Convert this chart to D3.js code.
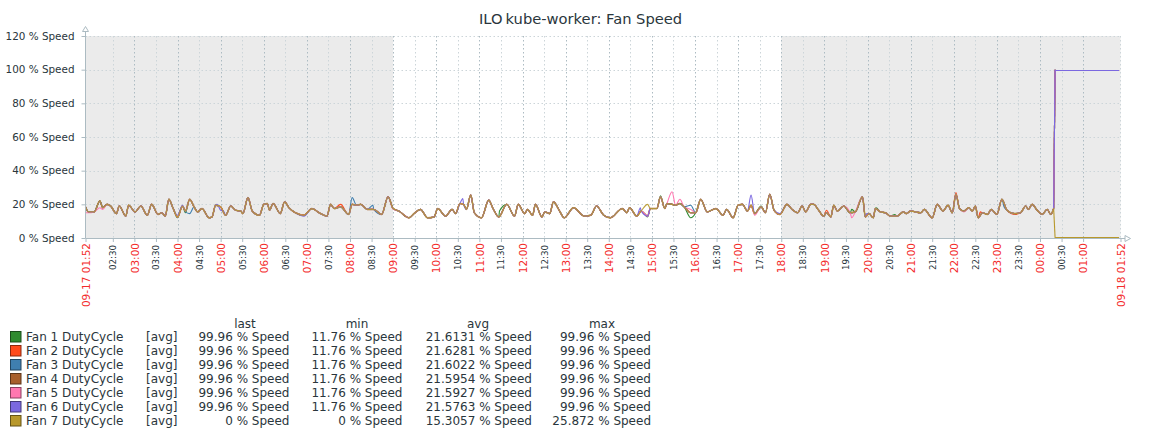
<!DOCTYPE html>
<html><head><meta charset="utf-8">
<script src="https://cdn.jsdelivr.net/npm/d3@7"></script>
<style>
html,body{margin:0;padding:0;background:#fff;overflow:hidden}
text{font-family:"DejaVu Sans",sans-serif;fill:#2A363C}
</style></head><body><svg id="c" width="1151" height="439"></svg>
<script>
const titleHost = "ILO";
const titleRest = "kube-worker: Fan Speed";
const fanNames = ["Fan 1 DutyCycle","Fan 2 DutyCycle","Fan 3 DutyCycle","Fan 4 DutyCycle","Fan 5 DutyCycle","Fan 6 DutyCycle","Fan 7 DutyCycle"];
const fanColors = ["#2F8B2F","#FF4A1C","#3F7FAF","#A85F2C","#FF77B0","#7B68E0","#B8982B"];
const lastValues = ["99.96 % Speed","99.96 % Speed","99.96 % Speed","99.96 % Speed","99.96 % Speed","99.96 % Speed","0 % Speed"];
const minValues = ["11.76 % Speed","11.76 % Speed","11.76 % Speed","11.76 % Speed","11.76 % Speed","11.76 % Speed","0 % Speed"];
const avgValues = ["21.6131 % Speed","21.6281 % Speed","21.6022 % Speed","21.5954 % Speed","21.5927 % Speed","21.5763 % Speed","15.3057 % Speed"];
const maxValues = ["99.96 % Speed","99.96 % Speed","99.96 % Speed","99.96 % Speed","99.96 % Speed","99.96 % Speed","25.872 % Speed"];
const yTicks = [0,20,40,60,80,100,120];

// minutes after 09-17 01:52, and the common trace (Fan 7)
const sharedMinutes = [0,4,12,20,24,30,35,43,47,56,60,69,77,86,92,101,106,111,116,122,128,135,139,145,151,156,162,172,176,181,188,195,202,209,216,219,226,232,242,248,253,256,261,271,277,283,292,304,315,325,336,341,346,355,366,371,377,383,392,401,412,421,428,436,
450,457,466,476,485,490,501,510,515,521,526,530,536,541,551,561,567,575,586,597,602,611,615,622,626,635,639,646,651,659,666,679,694,703,711,721,730,747,753,757,767,773,782,786,795,800,806,809,816,821,827,833,842,849,856,865,877,887,
892,901,908,914,921,926,931,940,946,952,958,966,976,983,991,997,1002,1009,1013,1020,1027,1031,1037,1041,1046,1055,1064,1071,1081,1085,1090,1096,1099,1106,1113,1120,1129,1138,1142,1148,1162,1167,1178,1185,1193,1200,1206,1211,1216,1222,1229,1234,1238,1242,1248,1255,1260,1268,1275,1282,1292,1301,1308,1312,1317,1324,1331,1338,1343,1347];
const sharedValues = [18.5,15.5,15.5,22,18,20,19,14.5,19,13,19.5,15.5,19,13.5,20,14,15,13,23,17.5,12.5,19,16,23,18.5,15.5,17.5,12,12.5,19.5,18.5,13.5,19,16.5,16,14.5,24,16,13.5,20,20.5,16.5,20.5,14.5,21.5,18,15,13.5,17.5,15,13,20,17.5,18.5,14,20,19.5,20,17,17,14,24.5,17.5,16,
12,14.5,17,12,12.5,17.5,13,17,14.5,20.5,20,17,25.5,15,12,22.5,17.5,12.5,20,13,20,14.5,17,13.5,20,12.5,15.5,14.5,21.5,16.5,12,18,13,13.5,19,13.5,12,17.5,15,18,13,16,20,17.5,17.5,24.5,17.5,20.5,20,19.5,20.5,18.5,15,15,23,15.5,17.5,13.5,
17,12,19.5,20,16,19.5,14.5,18.5,15,26,16.5,14,20,17,15,19,15.5,20,20,16.5,13,15,12.5,19.5,16,19,15,15.5,24.5,12.5,14.5,12,17.5,15.5,15,13,13,15.5,14.5,16,15,17,12,20,16,19.5,15,26,17.5,16,18,16,19,12,15,14,17,14,23,16.5,14.5,15,19,17,20,16.5,14,17,14,17.5];

// places where a single fan visibly leaves the common trace: [minute, value]
const fan1Diffs = [[128,12],[139,15],[576,16],[782,12.5],[800,25],[842,12],[940,19],[1066,17],[1100,18],[1126,14]];
const fan2Diffs = [[355,20],[782,13],[1031,16.5],[1211,27],[1245,15.5],[1292,14]];
const fan3Diffs = [[145,14.5],[139,15.5],[371,24],[400,19.5],[782,13],[842,19.5],[1278,18.5]];
const fan4Diffs = [[782,13]];
const fan5Diffs = [[0,15],[4,15],[20,18],[24,17],[428,17],[782,13],[816,27.5],[827,23],[842,17],[931,13.5],[1066,12],[1222,15.5]];
const fan6Diffs = [[128,13.5],[135,19.5],[183,20],[188,16.5],[192,16],[304,13],[525,23.5],[772,18],[782,13],[926,25.5],[966,14.5],[1087,14.5],[1292,14.5]];
const fanDiffs = [fan1Diffs,fan2Diffs,fan3Diffs,fan4Diffs,fan5Diffs,fan6Diffs,[]];
const tailMinutes = [1349,1438];
const highTail = [99.96,99.96];
const lowTail = [0,0];

const majorHours = ["03:00","04:00","05:00","06:00","07:00","08:00","09:00","10:00","11:00","12:00","13:00","14:00","15:00","16:00","17:00","18:00","19:00","20:00","21:00","22:00","23:00","00:00","01:00"];
const minorHours = ["02:30","03:30","04:30","05:30","06:30","07:30","08:30","09:30","10:30","11:30","12:30","13:30","14:30","15:30","16:30","17:30","18:30","19:30","20:30","21:30","22:30","23:30","00:30"];
const workHours = ["09:00","18:00"];

const start = new Date(2024,8,17,1,52), end = new Date(2024,8,18,1,52);
const at = m => new Date(+start + m*60000);
const clock = s => { const [h,m]=s.split(":").map(Number); const d=new Date(2024,8,17,h,m); if(d<start) d.setDate(18); return d; };

const L=85.5,R=1120.5,T=36,B=238;
const x = d3.scaleTime().domain([start,end]).range([L,R]);
const y = d3.scaleLinear().domain([0,120]).range([B,T]);
const svg = d3.select("#c");
const gridMinor="#CCD5D9", gridMajor="#ACBBC2";

svg.append("rect").attr("x",L).attr("y",T).attr("width",R-L).attr("height",B-T).attr("fill","#EBEBEB");
svg.append("rect").attr("x",x(clock(workHours[0]))).attr("y",T).attr("height",B-T)
   .attr("width",x(clock(workHours[1]))-x(clock(workHours[0]))).attr("fill","#fff");

// grid
const dash="1.5,2.5";
svg.append("g").selectAll("line").data(yTicks.slice(1)).join("line")
  .attr("x1",L).attr("x2",R).attr("y1",d=>Math.round(y(d))+.5).attr("y2",d=>Math.round(y(d))+.5)
  .attr("stroke",gridMinor).attr("stroke-dasharray",dash);
svg.append("g").selectAll("line").data(minorHours.map(clock)).join("line")
  .attr("x1",d=>Math.round(x(d))+.5).attr("x2",d=>Math.round(x(d))+.5).attr("y1",T).attr("y2",B)
  .attr("stroke",gridMinor).attr("stroke-dasharray",dash);
svg.append("g").selectAll("line").data(majorHours.map(clock)).join("line")
  .attr("x1",d=>Math.round(x(d))+.5).attr("x2",d=>Math.round(x(d))+.5).attr("y1",T).attr("y2",B)
  .attr("stroke",gridMajor).attr("stroke-dasharray",dash);
svg.append("line").attr("x1",R).attr("x2",R).attr("y1",T).attr("y2",B).attr("stroke",gridMinor).attr("stroke-dasharray",dash);

// series
const line = d3.line().x(d=>x(at(d[0]))).y(d=>y(d[1]));
const smooth = d3.line().x(d=>x(at(d[0]))).y(d=>y(d[1])).curve(d3.curveMonotoneX);
const bodyOf = i => {
  const m = new Map(sharedMinutes.map((t,k)=>[t,sharedValues[k]]));
  fanDiffs[i].forEach(([t,v])=>m.set(t,v));
  return [...m.entries()].sort((a,b)=>a[0]-b[0]);
};
const tailOf = i => tailMinutes.map((t,k)=>[t,(i<6?highTail:lowTail)[k]]);
const widths = [1.1,1.1,1.1,1.5,1.1,1.1,1.2];
const gSeries = svg.append("g"), gTail = svg.append("g");
fanNames.forEach((n,i)=>{
  const b = bodyOf(i), t = tailOf(i);
  gSeries.append("path").attr("d",smooth(b)).attr("fill","none")
    .attr("stroke",fanColors[i]).attr("stroke-width",widths[i]).attr("stroke-linejoin","round")
    .attr("stroke-opacity",i===6?0.9:1);
  gSeries.append("path").attr("d",line([b[b.length-1],t[0]])).attr("fill","none")
    .attr("stroke",fanColors[i]).attr("stroke-width",1.1);
  // the flat end of each trace sits on one pixel row
  const py = y(t[0][1]);
  const row = (i<6 ? Math.floor(py)+1 : Math.floor(py)-1) + .5;
  gTail.append("path").attr("d",line(t)).attr("fill","none").attr("transform",`translate(0,${row-py})`)
    .attr("stroke",fanColors[i]).attr("stroke-width",1);
});

// axes
const yAxis = d3.axisLeft(y).tickValues(yTicks).tickSize(4).tickPadding(7).tickFormat(d=>d+" % Speed");
const gy = svg.append("g").attr("transform",`translate(${L},0)`).call(yAxis);
gy.select(".domain").remove();
gy.selectAll("line").attr("stroke",gridMajor);
gy.selectAll("text").attr("font-size",10.4).style("font-family","'DejaVu Sans'");

const labelOf = new Map();
minorHours.forEach(h=>labelOf.set(+clock(h),h));
majorHours.forEach(h=>labelOf.set(+clock(h),h));
const xt = [...minorHours,...majorHours].map(clock).sort((a,b)=>a-b);
const isMajor = new Set(majorHours.map(h=>+clock(h)));
const xAxis = d3.axisBottom(x).tickValues([start,...xt,end]).tickSize(4).tickPadding(3)
  .tickFormat(d=> +d===+start ? "09-17 01:52" : +d===+end ? "09-18 01:52" : labelOf.get(+d));
const gx = svg.append("g").attr("transform",`translate(0,${B})`).call(xAxis);
gx.select(".domain").remove();
gx.selectAll("line").attr("stroke",gridMajor);
gx.selectAll("text").each(function(d){
  const big = isMajor.has(+d)|| +d===+start || +d===+end;
  d3.select(this).attr("transform",`translate(0,${big?5:7}) rotate(-90)`)
    .attr("x",0).attr("y",0).attr("dy","0.35em").attr("text-anchor","end")
    .attr("font-size",big?10.5:8.7).style("fill",big?"#F32B2B":"#2A363C");
});

// axis lines + arrows
svg.append("line").attr("x1",L).attr("x2",L).attr("y1",31).attr("y2",B).attr("stroke",gridMajor);
svg.append("line").attr("x1",L).attr("x2",1125).attr("y1",B+.5).attr("y2",B+.5).attr("stroke",gridMajor);
const arrow = d3.line();
svg.append("path").attr("d",arrow([[L-3,31.5],[L+3,31.5],[L,26.5]])+"Z").attr("fill","#fff").attr("stroke",gridMajor);
svg.append("path").attr("d",arrow([[1125,235.5],[1125,241.5],[1130.5,238.5]])+"Z").attr("fill","#fff").attr("stroke",gridMajor);

// title
const title = svg.append("text").attr("x",479).attr("y",24).attr("font-size",14.7);
title.append("tspan").text(titleHost);
title.append("tspan").attr("dx",3).text(titleRest);

// legend
const rowY = d3.scalePoint().domain(fanNames).range([341,425]);
const head = [["last",245],["min",357],["avg",478],["max",602]];
svg.append("g").selectAll("text").data(head).join("text").attr("x",d=>d[1]).attr("y",328)
  .attr("text-anchor","middle").attr("font-size",12).text(d=>d[0]);
const rows = svg.append("g").selectAll("g").data(fanNames).join("g").attr("transform",d=>`translate(0,${rowY(d)})`);
rows.append("rect").attr("x",10.5).attr("y",-9.5).attr("width",10.5).attr("height",10.5)
  .attr("fill",(d,i)=>fanColors[i]).attr("stroke",(d,i)=>d3.color(fanColors[i]).darker(1.7)).attr("stroke-width",1);
rows.append("text").attr("x",26).attr("font-size",12).text(d=>d);
rows.append("text").attr("x",146).attr("font-size",12).text("[avg]");
[[lastValues,289.5],[minValues,402.5],[avgValues,532],[maxValues,651]].forEach(([a,px])=>{
  rows.append("text").attr("x",px).attr("text-anchor","end").attr("font-size",12).text((d,i)=>a[i]);
});
</script></body></html>
